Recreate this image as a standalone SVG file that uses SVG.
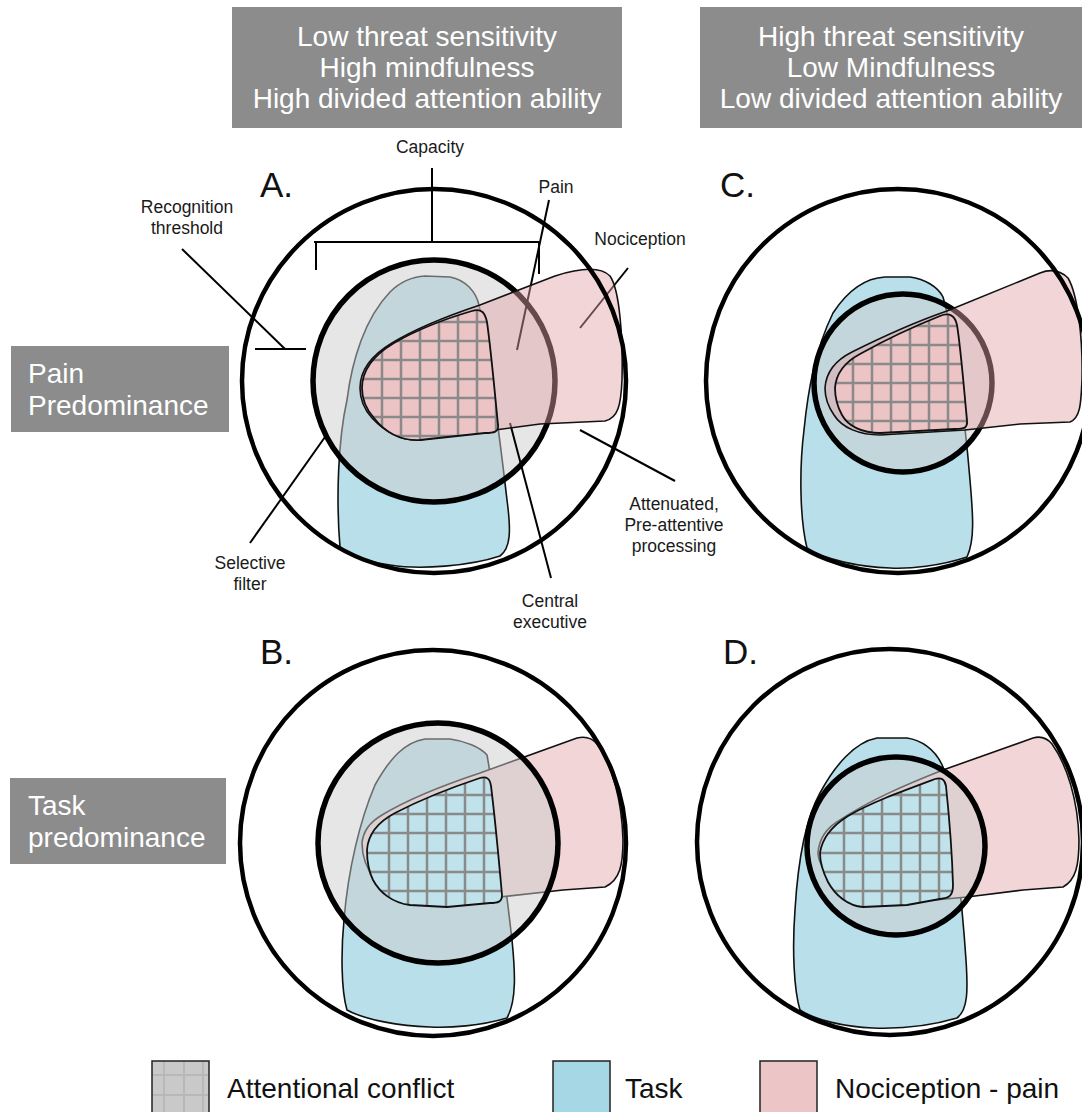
<svg xmlns="http://www.w3.org/2000/svg" xmlns:xlink="http://www.w3.org/1999/xlink" width="1082" height="1112" viewBox="0 0 1082 1112">
<style>
text{font-family:"Liberation Sans",Arial,Helvetica,sans-serif}
.hdr{fill:#8c8c8c}
.ht{fill:#fff;font-size:28px;text-anchor:middle}
.st{fill:#fff;font-size:28px}
.lbl{fill:#1a1a1a;font-size:17.5px;text-anchor:middle}
.let{fill:#111;font-size:35px}
.outer{fill:none;stroke:#000;stroke-width:4.5}
.inner{fill:#cccccc;fill-opacity:.49;stroke:#000;stroke-width:5.5}
.blue{fill:#b9e0ea;stroke:#111;stroke-width:1.6}
.pinkT{fill:#e3a2a7;fill-opacity:.45;stroke:#111;stroke-width:1.6}
.pinkO{fill:#f2d5d7;stroke:#111;stroke-width:1.6}
.gridP{fill:#ecc4c5}
.gridB{fill:#bfe2eb}
.gl{fill:none;stroke:#8a8a8a;stroke-width:2.5}
.gout{fill:none;stroke:#111;stroke-width:1.8}
.ptr{fill:none;stroke:#000;stroke-width:2}
.leg{fill:#111;font-size:28px}
</style>
<defs>
<path id="gA" d="M362,388 C362,370 374,355 394,343 C420,328 448,318 472,311 C482,308 485,313 487,322 C491,350 495,395 498,425 C499,432 494,433 485,433 L420,440 C400,441 385,432 374,418 C365,408 362,398 362,388 Z"/>
<path id="gC" d="M835,388 C836,374 845,362 860,354 C885,340 915,326 940,316 C950,312 955,316 957,325 C961,350 964,390 967,420 C968,428 964,429 955,429 L880,433 C862,433 848,426 842,415 C837,406 835,397 835,388 Z"/>
<path id="gB" d="M367,850 C368,835 378,822 395,813 C420,800 450,788 480,778 C487,776 490,779 491,786 C494,810 498,850 502,895 C502,902 498,903 490,903 L447,907 L410,905 C393,903 380,893 373,880 C368,870 367,860 367,850 Z"/>
<path id="gD" d="M820,853 C822,838 832,826 848,816 C870,803 900,792 935,779 C942,777 945,780 946,786 C949,815 952,850 953,885 C953,895 950,898 940,899 L907,905 L863,907 C848,906 835,895 828,882 C823,872 820,862 820,853 Z"/>
<clipPath id="cA"><use href="#gA"/></clipPath>
<clipPath id="cC"><use href="#gC"/></clipPath>
<clipPath id="cB"><use href="#gB"/></clipPath>
<clipPath id="cD"><use href="#gD"/></clipPath>
</defs>
<rect width="1082" height="1112" fill="#fff"/>

<g id="header-left">
<rect class="hdr" x="232" y="7" width="390" height="121"/>
<text class="ht" x="427" y="46">Low threat sensitivity</text>
<text class="ht" x="427" y="77">High mindfulness</text>
<text class="ht" x="427" y="108">High divided attention ability</text>
</g>
<g id="header-right">
<rect class="hdr" x="700" y="7" width="382" height="121"/>
<text class="ht" x="891" y="46">High threat sensitivity</text>
<text class="ht" x="891" y="77">Low Mindfulness</text>
<text class="ht" x="891" y="108">Low divided attention ability</text>
</g>
<g id="row-pain">
<rect class="hdr" x="11" y="346" width="218" height="86"/>
<text class="st" x="28" y="383">Pain</text>
<text class="st" x="28" y="415">Predominance</text>
</g>
<g id="row-task">
<rect class="hdr" x="10" y="778" width="216" height="86"/>
<text class="st" x="28" y="815">Task</text>
<text class="st" x="28" y="847">predominance</text>
</g>

<g id="panel-A">
<text class="let" x="260" y="197">A.</text>
<path class="blue" d="M340,547 C336,500 338,440 347,400 C352,360 365,318 390,292 C400,282 410,277 425,276 L450,277 C466,280 476,292 479,305 C488,350 500,440 507,500 C511,530 511,548 500,556 C470,566 420,570 390,565 C365,561 348,555 340,547 Z"/>
<circle class="inner" cx="434" cy="381" r="121"/>
<g id="connectors-A">
<path class="ptr" d="M432,168 V242 M314,242 H539 M316,242 V270 M539,242 V274"/>
<path class="ptr" d="M182,249 L285,349 M255,349 H306"/>
<path class="ptr" d="M549,200 L517,350"/>
<path class="ptr" d="M628,268 L580,328"/>
<path class="ptr" d="M580,430 L675,481"/>
<path class="ptr" d="M510,423 L551,578"/>
<path class="ptr" d="M325,437 L250,543"/>
</g>
<path class="pinkT" d="M360,388 C360,370 372,355 392,343 C420,326 450,315 480,305 L555,276 C580,268 600,266 610,276 C620,290 623,340 622,380 C621,405 618,418 605,421 L540,424 L495,430 L420,440 C400,441 385,432 372,418 C363,408 360,398 360,388 Z"/>
<use href="#gA" class="gridP"/>
<path class="gl" clip-path="url(#cA)" d="M382,300V450 M401,300V450 M420,300V450 M439,300V450 M458,300V450 M477,300V450 M496,300V450 M350,322H510 M350,341H510 M350,360H510 M350,379H510 M350,398H510 M350,417H510 M350,436H510"/>
<use href="#gA" class="gout"/>
<circle class="outer" cx="434" cy="381" r="192"/>
<text class="lbl" x="430" y="153">Capacity</text>
<text class="lbl" x="187" y="213">Recognition</text>
<text class="lbl" x="187" y="234">threshold</text>
<text class="lbl" x="556" y="193">Pain</text>
<text class="lbl" x="640" y="245">Nociception</text>
<text class="lbl" x="674" y="510">Attenuated,</text>
<text class="lbl" x="674" y="531">Pre-attentive</text>
<text class="lbl" x="674" y="552">processing</text>
<text class="lbl" x="250" y="569">Selective</text>
<text class="lbl" x="250" y="590">filter</text>
<text class="lbl" x="550" y="607">Central</text>
<text class="lbl" x="550" y="628">executive</text>
</g>

<g id="panel-C">
<text class="let" x="720" y="197">C.</text>
<path class="blue" d="M807,548 C800,520 799,470 804,430 C808,390 815,350 833,313 C848,290 866,278 885,277 L910,277 C925,279 938,287 943,297 C955,340 965,420 970,480 C973,515 975,540 967,557 C940,566 910,569 890,568 C860,567 825,560 807,548 Z"/>
<circle class="inner" cx="903" cy="383" r="89"/>
<path class="pinkT" d="M825,388 C826,372 836,360 852,352 C880,338 915,322 947,311 L1040,273 C1050,269 1060,270 1068,278 C1078,295 1083,340 1082,380 C1081,405 1080,418 1070,422 L1020,424 L965,430 L880,435 C860,435 842,428 834,415 C827,405 825,396 825,388 Z"/>
<use href="#gC" class="gridP"/>
<path class="gl" clip-path="url(#cC)" d="M853,300V450 M872,300V450 M891,300V450 M910,300V450 M929,300V450 M948,300V450 M967,300V450 M825,326H980 M825,345H980 M825,364H980 M825,383H980 M825,402H980 M825,421H980"/>
<use href="#gC" class="gout"/>
<circle class="outer" cx="898" cy="381" r="192"/>
</g>

<g id="panel-B">
<text class="let" x="260" y="664">B.</text>
<path class="blue" d="M347,1010 C341,990 341,950 344,920 C348,870 360,820 375,785 C390,758 405,742 425,739 L450,739 C465,741 480,747 487,755 C495,800 505,880 512,940 C515,970 517,1000 507,1018 C480,1026 450,1028 430,1027 C400,1026 365,1020 347,1010 Z"/>
<path class="pinkO" d="M362,843 C363,832 370,822 382,815 C410,798 450,783 480,773 L577,738 C585,736 592,738 597,744 C612,765 622,800 623,840 C623,865 620,880 605,887 L563,890 L500,897 L430,903 C405,903 385,893 375,880 C366,868 362,855 362,843 Z"/>
<circle class="inner" cx="438" cy="843" r="120"/>
<use href="#gB" class="gridB"/>
<path class="gl" clip-path="url(#cB)" d="M389,760V920 M408,760V920 M427,760V920 M446,760V920 M465,760V920 M484,760V920 M503,760V920 M355,776H515 M355,795H515 M355,814H515 M355,833H515 M355,853H515 M355,872H515 M355,891H515"/>
<use href="#gB" class="gout"/>
<circle class="outer" cx="433" cy="843" r="193"/>
</g>

<g id="panel-D">
<text class="let" x="723" y="664">D.</text>
<path class="blue" d="M800,1010 C794,990 792,950 795,910 C798,860 805,820 820,793 C835,765 855,742 877,738 L907,738 C920,740 935,748 943,767 C952,810 962,900 966,960 C968,990 968,1010 957,1018 C930,1026 900,1029 873,1028 C845,1027 815,1020 800,1010 Z"/>
<path class="pinkO" d="M818,853 C819,840 826,828 840,820 C870,800 905,785 943,770 L1033,738 C1040,736 1047,738 1052,744 C1067,765 1078,800 1079,840 C1079,865 1076,880 1063,887 L1023,890 L967,897 L880,905 C860,905 838,895 830,880 C822,868 818,860 818,853 Z"/>
<circle class="inner" cx="896" cy="846" r="89"/>
<use href="#gD" class="gridB"/>
<path class="gl" clip-path="url(#cD)" d="M844,760V920 M863,760V920 M882,760V920 M901,760V920 M920,760V920 M939,760V920 M810,776H965 M810,795H965 M810,814H965 M810,833H965 M810,853H965 M810,872H965 M810,891H965"/>
<use href="#gD" class="gout"/>
<circle class="outer" cx="890" cy="842" r="193"/>
</g>

<g id="legend-conflict">
<rect x="152" y="1061" width="57" height="53" fill="#c9c9c9"/>
<path d="M164,1061V1112 M184,1061V1112 M203,1061V1112 M152,1075H209 M152,1095H209" stroke="#b8b8b8" stroke-width="2" fill="none"/>
<rect x="152" y="1061" width="57" height="53" fill="none" stroke="#222" stroke-width="1.5"/>
<text class="leg" x="227" y="1098">Attentional conflict</text>
</g>
<g id="legend-task">
<rect x="553" y="1061" width="57" height="53" fill="#a6d7e5" stroke="#222" stroke-width="1.5"/>
<text class="leg" x="625" y="1098">Task</text>
</g>
<g id="legend-pain">
<rect x="760" y="1061" width="57" height="53" fill="#ecc6c6" stroke="#222" stroke-width="1.5"/>
<text class="leg" x="835" y="1098">Nociception - pain</text>
</g>
</svg>
